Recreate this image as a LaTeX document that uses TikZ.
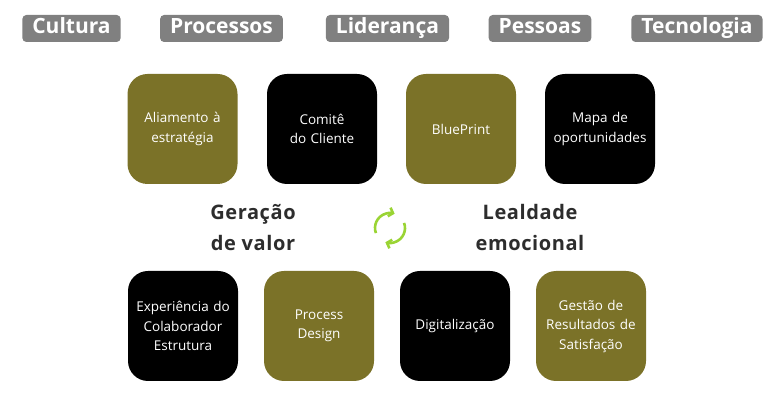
\documentclass[tikz,border=0pt]{standalone}
\usepackage{fontspec}
\setmainfont{Open Sans}
\newfontfamily\headfont[LetterSpace=3]{Open Sans}
\usepackage{tikz}
\usetikzlibrary{positioning}
\usetikzlibrary{arrows.meta}
\usepackage{xcolor}
\definecolor{cinza}{RGB}{128,128,128}
\definecolor{oliva}{RGB}{123,114,40}
\definecolor{texto}{RGB}{45,45,45}
\definecolor{verde}{RGB}{154,212,52}

\begin{document}
\begin{tikzpicture}[x=1pt,y=1pt,
		pilar/.style={fill=cinza,text=white,rounded corners=4pt,inner xsep=10pt,inner ysep=0pt,text height=15pt,text depth=5pt,minimum height=27pt,font=\fontsize{21}{24}\selectfont\bfseries},
		bloco/.style={rounded corners=20pt,minimum width=110pt,minimum height=110pt,inner xsep=3pt,text width=104pt,align=center,text=white,font=\fontsize{13.5}{19.5}\selectfont},
		titulo/.style={align=center,text=texto,font=\headfont\bfseries\fontsize{20}{31}\selectfont}]
		\useasboundingbox (0,0) rectangle (777,415);

		% pilares
		\node[pilar](cultura) at (71.5,386.5){Cultura};
		\node[pilar](processos) at (221.5,386.5){Processos};
		\node[pilar](lideranca) at (387.5,386.5){Liderança};
		\node[pilar](pessoas) at (540,386.5){Pessoas};
		\node[pilar](tecnologia) at (697,386.5){Tecnologia};

		% linha de cima
		\node[bloco,fill=oliva](alinhamento) at (182.5,286){Aliamento à\\estratégia};
		\node[bloco,fill=black](comite) at (322,286){Comitê\\do Cliente};
		\node[bloco,fill=oliva](blueprint) at (461,286){BluePrint};
		\node[bloco,fill=black](mapa) at (600,286){Mapa de\\oportunidades};

		% meio
		\node[titulo](geracao) at (253,187.5){Geração\\de valor};
		\node[titulo](lealdade) at (530,187.5){Lealdade\\emocional};
		\coordinate(ciclo) at (390,187);
		\draw[verde,line width=2.6pt,-{Straight Barb[length=4pt,width=9pt]}] (ciclo) ++(200:15) arc[start angle=200,end angle=72,radius=15];
		\draw[verde,line width=2.6pt,-{Straight Barb[length=4pt,width=9pt]}] (ciclo) ++(20:15) arc[start angle=20,end angle=-108,radius=15];

		% linha de baixo
		\node[bloco,fill=black](experiencia) at (183,89){Experiência do\\Colaborador\\Estrutura};
		\node[bloco,fill=oliva](design) at (319,89){Process\\Design};
		\node[bloco,fill=black](digital) at (455,89){Digitalização};
		\node[bloco,fill=oliva](gestao) at (591,89){Gestão de\\Resultados de\\Satisfação};
	\end{tikzpicture}
\end{document}
